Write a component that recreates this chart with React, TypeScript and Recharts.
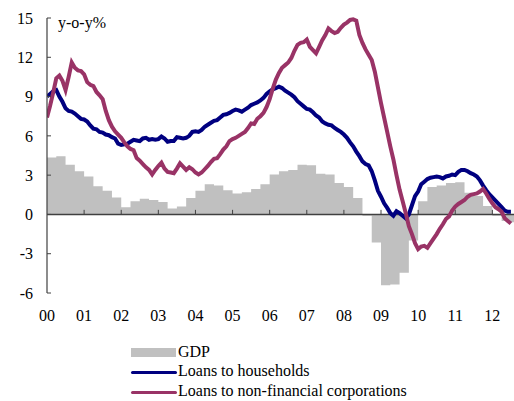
import React from 'react';
import { ComposedChart, Area, Line, XAxis, YAxis, ReferenceLine } from 'recharts';

// Monthly values, Jan 2000 .. Jul 2012 (index = months since Jan 2000)
const households: number[] = [
  9.0, 9.2, 9.4, 9.5, 9.0, 8.6, 8.1, 7.9, 7.85, 7.7,
  7.5, 7.3, 7.25, 7.1, 6.8, 6.55, 6.5, 6.3, 6.25, 6.1,
  6.05, 5.9, 5.8, 5.4, 5.3, 5.35, 5.4, 5.55, 5.7, 5.65,
  5.6, 5.8, 5.85, 5.7, 5.75, 5.7, 5.75, 5.95, 5.8, 5.55,
  5.6, 5.6, 5.9, 5.85, 5.8, 5.85, 6.0, 6.3, 6.35, 6.3,
  6.45, 6.7, 6.85, 7.0, 7.15, 7.2, 7.4, 7.6, 7.65, 7.75,
  7.9, 8.0, 7.95, 7.85, 8.0, 8.15, 8.35, 8.45, 8.55, 8.7,
  8.9, 9.2, 9.4, 9.55, 9.65, 9.75, 9.65, 9.45, 9.3, 9.15,
  8.95, 8.65, 8.45, 8.25, 8.05, 8.0, 7.8, 7.55, 7.4, 7.1,
  6.95, 6.85, 6.8, 6.6, 6.45, 6.3, 6.1, 5.85, 5.5, 5.2,
  4.8, 4.45, 4.05, 3.85, 3.75, 3.3, 2.6, 1.8, 1.35, 0.85,
  0.5, 0.1, -0.1, 0.25, 0.1, -0.1, -0.3, 0.0, 0.7, 1.4,
  1.75, 2.3, 2.5, 2.7, 2.8, 2.85, 2.9, 2.85, 2.75, 2.9,
  2.95, 3.05, 3.0, 3.25, 3.4, 3.4, 3.3, 3.15, 3.05, 2.9,
  2.6, 2.2, 1.85, 1.55, 1.3, 1.05, 0.8, 0.55, 0.3, 0.2,
  0.2,
];

const corporations: number[] = [
  7.4, 8.3, 9.3, 10.4, 10.6, 10.2, 9.5, 10.5, 11.6, 11.2,
  11.0, 10.95, 10.7, 10.1, 9.9, 9.8, 9.35, 9.1, 8.8, 7.9,
  7.2, 6.7, 6.35, 6.1, 5.85, 5.5, 5.2, 5.0, 4.9, 4.3,
  4.1, 3.85, 3.6, 3.4, 3.05, 3.4, 3.7, 3.95, 3.5, 3.25,
  3.2, 3.15, 3.5, 3.9, 3.65, 3.4, 3.6, 3.45, 3.2, 3.05,
  3.2, 3.45, 3.7, 4.0, 4.25, 4.3, 4.6, 4.95, 5.2, 5.6,
  5.75, 5.85, 6.0, 6.15, 6.3, 6.6, 6.95, 6.9, 7.3, 7.5,
  7.75, 8.2, 8.8, 9.6, 10.3, 10.8, 11.2, 11.4, 11.6, 11.95,
  12.5, 12.95, 13.1, 13.15, 13.35, 12.8, 12.55, 12.3, 12.8, 13.3,
  13.7, 14.2, 14.0, 13.85, 13.95, 14.25, 14.5, 14.65, 14.85, 14.9,
  14.8, 13.7, 13.1, 12.6, 12.2, 11.8, 10.9, 9.7, 8.5, 7.4,
  6.3, 5.2, 4.2, 3.0, 1.9, 1.0, 0.1, -0.9, -1.5, -2.2,
  -2.65, -2.45, -2.4, -2.55, -2.2, -1.85, -1.5, -1.1, -0.75, -0.35,
  -0.15, 0.3, 0.6, 0.8, 0.95, 1.1, 1.35, 1.5, 1.55, 1.6,
  1.75, 1.95, 1.6, 1.2, 0.85, 0.55, 0.4, 0.2, -0.3, -0.5,
  -0.7,
];

// Quarterly GDP, 2000Q1 .. 2012Q3
const gdpQuarterly: number[] = [
  4.35, 4.45, 3.8, 3.3,
  2.9, 2.15, 1.8, 1.3,
  0.55, 1.0, 1.2, 1.1,
  0.95, 0.45, 0.6, 1.25,
  1.8, 2.3, 2.2, 1.85,
  1.6, 1.7, 1.95, 2.3,
  3.05, 3.3, 3.4, 3.8,
  3.75, 3.1, 3.05, 2.4,
  2.1, 1.25, -0.1, -2.15,
  -5.4, -5.35, -4.45, -2.0,
  1.0, 2.1, 2.2, 2.4,
  2.45, 1.65, 1.4, 0.65,
  -0.1, -0.5, -0.6,
];

const yearLabels: string[] = ['00', '01', '02', '03', '04', '05', '06', '07', '08', '09', '10', '11', '12'];
const yTicks: number[] = [-6, -3, 0, 3, 6, 9, 12, 15];

const lineData = households.map((v, i) => ({ m: i, households: v, corporations: corporations[i] }));
const gdpData = [
  ...gdpQuarterly.map((v, i) => ({ m: i * 3, gdp: v })),
  { m: gdpQuarterly.length * 3, gdp: gdpQuarterly[gdpQuarterly.length - 1] },
];
const yearTicks = yearLabels.map((_, i) => i * 12);

const FONT = '"Liberation Serif", "Times New Roman", serif';
const AXIS = '#404040';
const NAVY = '#000080';
const MAROON = '#993366';
const GRAY = '#c0c0c0';

const legendText: React.CSSProperties = {
  position: 'absolute',
  left: 178,
  fontFamily: FONT,
  fontSize: 16,
  lineHeight: '18px',
  color: '#000',
  whiteSpace: 'nowrap',
};

export default function App() {
  return (
    <div style={{ position: 'absolute', left: 0, top: 0, width: 514, height: 401, background: '#fff' }}>
      <ComposedChart
        width={514}
        height={401}
        data={lineData}
        margin={{ top: 18, right: 0, bottom: 78, left: 0 }}
        style={{ fontFamily: FONT }}
      >
        <XAxis
          dataKey="m"
          type="number"
          domain={[0, 151]}
          allowDataOverflow
          ticks={yearTicks}
          tickFormatter={(v: number) => yearLabels[Math.round(v / 12)]}
          axisLine={false}
          tickLine={false}
          tickSize={0}
          tickMargin={17}
          height={30}
          interval={0}
          tick={{ fill: '#000', fontSize: 16, fontFamily: FONT }}
        />
        <YAxis
          type="number"
          domain={[-6, 15]}
          ticks={yTicks}
          interval={0}
          width={47}
          axisLine={{ stroke: AXIS, strokeWidth: 1.2 }}
          tickLine={{ stroke: AXIS }}
          tickSize={-4}
          tickMargin={18}
          tick={{ fill: '#000', fontSize: 16, fontFamily: FONT }}
        />
        <Area
          data={gdpData}
          dataKey="gdp"
          type="stepAfter"
          fill={GRAY}
          fillOpacity={1}
          stroke="none"
          isAnimationActive={false}
          dot={false}
          activeDot={false}
        />
        <ReferenceLine y={0} stroke={AXIS} strokeWidth={1.5} />
        {yearTicks.slice(1).map((t) => (
          <ReferenceLine
            key={t}
            segment={[{ x: t, y: 0 }, { x: t, y: 0.35 }]}
            stroke={AXIS}
            strokeWidth={1}
          />
        ))}
        <Line
          dataKey="households"
          type="linear"
          stroke={NAVY}
          strokeWidth={4}
          dot={false}
          activeDot={false}
          isAnimationActive={false}
        />
        <Line
          dataKey="corporations"
          type="linear"
          stroke={MAROON}
          strokeWidth={4}
          dot={false}
          activeDot={false}
          isAnimationActive={false}
        />
      </ComposedChart>

      <div style={{ position: 'absolute', left: 58, top: 13.6, fontFamily: FONT, fontSize: 16, lineHeight: '18px', color: '#000' }}>
        y-o-y%
      </div>

      <div style={{ position: 'absolute', left: 131, top: 348, width: 45, height: 9, background: GRAY }} />
      <div style={{ ...legendText, top: 342.6 }}>GDP</div>
      <div style={{ position: 'absolute', left: 131, top: 370.5, width: 46, height: 3, background: NAVY, borderRadius: 1.5 }} />
      <div style={{ ...legendText, top: 362.3 }}>Loans to households</div>
      <div style={{ position: 'absolute', left: 131, top: 390.5, width: 46, height: 3, background: MAROON, borderRadius: 1.5 }} />
      <div style={{ ...legendText, top: 382.3 }}>Loans to non-financial corporations</div>
    </div>
  );
}
